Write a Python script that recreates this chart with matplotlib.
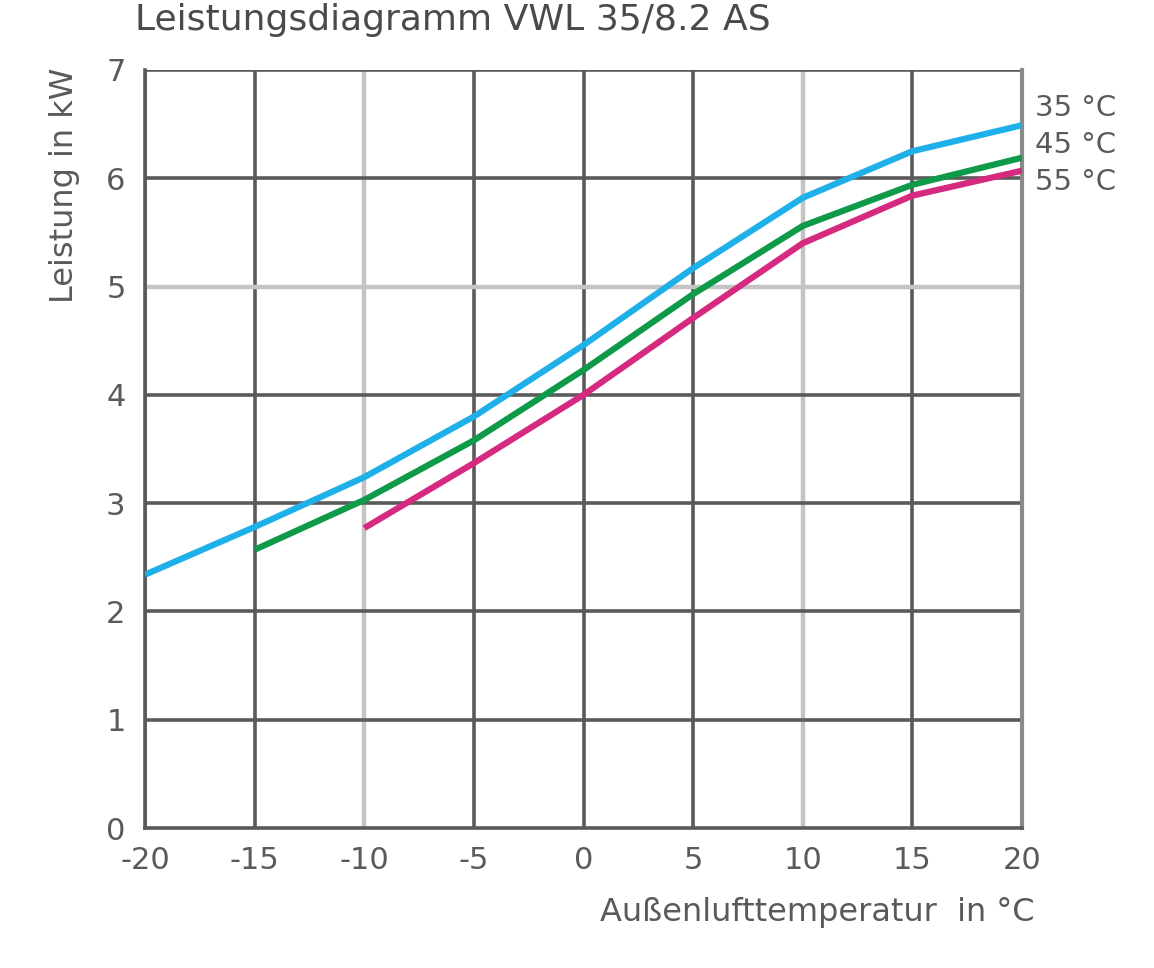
import matplotlib.pyplot as plt

plt.rcParams["axes.unicode_minus"] = False

# Außenlufttemperatur in °C
temp_35 = [-20, -15, -10, -5, 0, 5, 10, 15, 20]
temp_45 = [-15, -10, -5, 0, 5, 10, 15, 20]
temp_55 = [-10, -5, 0, 5, 10, 15, 20]

# Leistung in kW
leistung_35 = [2.34, 2.78, 3.24, 3.80, 4.46, 5.17, 5.82, 6.25, 6.49]
leistung_45 = [2.57, 3.03, 3.58, 4.23, 4.93, 5.56, 5.94, 6.19]
leistung_55 = [2.77, 3.37, 4.00, 4.71, 5.40, 5.84, 6.07]

labels = ["35 °C", "45 °C", "55 °C"]
farben = ["#1fb0ea", "#0f9a4a", "#d62a80"]

fig = plt.figure(figsize=(11.54, 9.68), dpi=100)
ax = fig.add_axes([0.1257, 0.1446, 0.7599, 0.7831])

dunkel = "#5a5a5a"
hell = "#c4c4c4"
textfarbe = "#5a5a5a"

# Gitter
for x in range(-15, 20, 5):
    ax.axvline(x, color=hell if x in (-10, 10) else dunkel, lw=3.2 if x in (-10, 10) else 2.6, zorder=1)
for y in range(1, 7):
    ax.axhline(y, color=hell if y == 5 else dunkel, lw=3.2 if y == 5 else 2.6, zorder=1)

for temps, werte, farbe in zip([temp_35, temp_45, temp_55],
                               [leistung_35, leistung_45, leistung_55], farben):
    ax.plot(temps, werte, color=farbe, lw=4.5, solid_capstyle="butt", zorder=3)

ax.set_xlim(-20, 20)
ax.set_ylim(0, 7)
ax.set_xticks(range(-20, 21, 5))
ax.set_yticks(range(0, 8))
ax.tick_params(length=0, labelsize=22, labelcolor=textfarbe)
ax.tick_params(axis="x", pad=13)
ax.tick_params(axis="y", pad=14)
for side in ["left", "bottom"]:
    ax.spines[side].set_color(dunkel)
    ax.spines[side].set_linewidth(2.6)
ax.spines["top"].set_visible(False)
ax.spines["right"].set_color("#8a8a8a")
ax.spines["right"].set_linewidth(3)
ax.axhline(7, color=dunkel, lw=2.6, zorder=1)
ax.axvline(-20, color=dunkel, lw=2.6, zorder=1)

# Beschriftungen rechts
for i, lab in enumerate(labels):
    fig.text(1035 / 1154, 1 - (108 + i * 37) / 968, lab, fontsize=21,
             color=textfarbe, ha="left", va="center")

fig.text(135 / 1154, 1 - 3 / 968, "Leistungsdiagramm VWL 35/8.2 AS",
         fontsize=26, color="#4a4a4a", ha="left", va="top")
fig.text(65 / 1154, 1 - 185 / 968, "Leistung in kW", fontsize=23,
         color=textfarbe, ha="center", va="center", rotation=90)
fig.text(1035 / 1154, 1 - 912 / 968, "Außenlufttemperatur  in °C", fontsize=23,
         color=textfarbe, ha="right", va="center")

fig.savefig("out.png", dpi=100)
